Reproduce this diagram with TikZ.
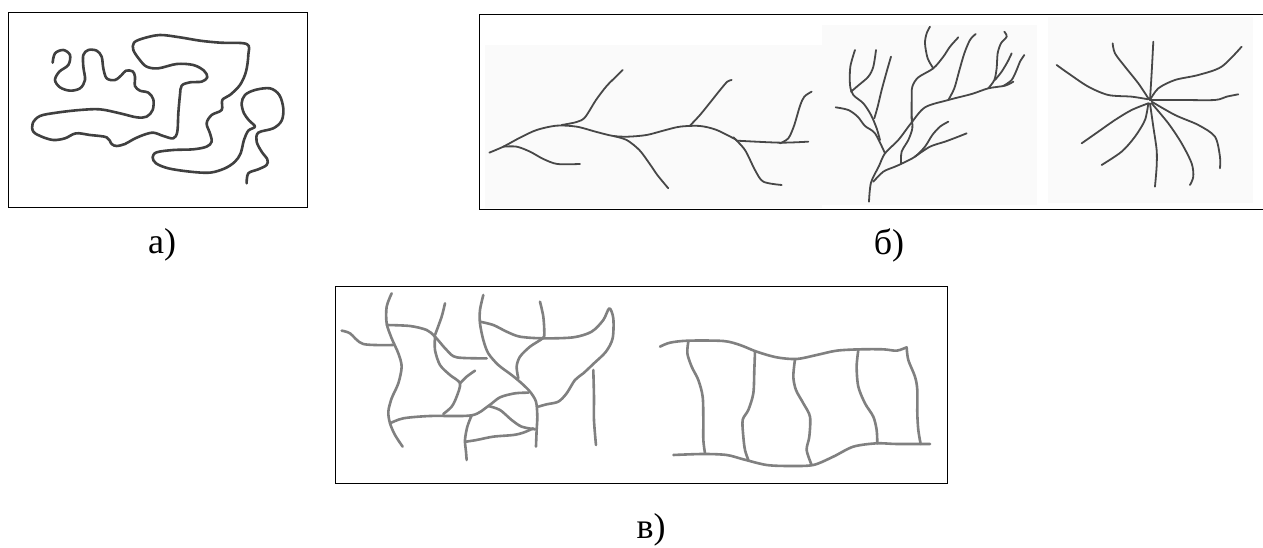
\documentclass[tikz,border=0pt]{standalone}
\usepackage{fontspec}
\setmainfont{Liberation Serif}
\usetikzlibrary{positioning}

\begin{document}
\begin{tikzpicture}[x=1pt, y=-1pt, semithick,
    fibre/.style={line width=2.6pt, draw=black!75, line cap=round, line join=round},
    twig/.style={line width=1.8pt, draw=black!72, line cap=round, line join=round},
    mesh/.style={line width=2.6pt, draw=black!50, line cap=round, line join=round},
    frame/.style={draw=black, line width=1pt},
    scan/.style={fill=black!2, draw=none},
    lbl/.style={font=\fontsize{36}{40}\selectfont, inner sep=0pt}]
    \useasboundingbox (0,0) rectangle (1263,547);

    \fill[white] (0,0) rectangle (1263,547);
    \fill[scan] (485,45) rectangle (822,208);
    \fill[scan] (822,25) rectangle (1037,205);
    \fill[scan] (1048,17) rectangle (1253,203);

    \draw[frame] (8,12) rectangle (307,207);
    \draw[frame] (479,14) rectangle (1275,209);
    \draw[frame] (335,286) rectangle (947,483);

    % a)
    \begin{scope}[x=0.3333pt, y=-0.3333pt]
        \draw[fibre] plot[smooth, tension=0.55] coordinates {(158,188) (165,160) (190,150) (210,165) (205,195) (178,215) (165,240) (180,262) (210,272) (240,265) (255,240) (250,200) (250,165) (265,150) (290,152) (305,170) (310,205) (320,235) (345,240) (365,225) (378,212) (398,214) (405,230) (405,258) (420,272) (445,278) (460,298) (458,330) (440,350) (410,352) (360,340) (300,328) (240,330) (170,338) (120,348) (98,370) (100,395) (125,410) (160,420) (195,415) (228,400) (270,405) (320,412) (335,432) (350,438) (375,432) (400,418) (430,405) (460,398) (490,408) (520,415) (532,395) (535,340) (540,285) (545,257) (570,247) (605,245) (622,232) (612,212) (580,195) (530,192) (475,205) (440,200) (418,178) (400,150) (402,128) (430,115) (480,105) (540,112) (600,122) (660,128) (740,132) (745,165) (738,215) (720,255) (690,285) (667,300) (665,330) (635,345) (620,370) (630,400) (635,425) (620,440) (580,448) (520,450) (470,457) (458,472) (468,490) (505,505) (570,515) (630,518) (675,505) (705,485) (722,460) (732,420) (745,392) (765,380) (748,362) (732,340) (725,310) (735,285) (765,270) (810,265) (838,285) (850,325) (845,362) (820,385) (775,398) (770,425) (785,455) (802,478) (800,495) (775,508) (745,520) (740,550)};
    \end{scope}

    % b) left
    \begin{scope}[shift={(470,0)}, x=0.3333pt, y=-0.3333pt]
        \draw[twig] plot[smooth] coordinates {(58,458) (100,440) (150,413) (200,390) (260,377) (320,380) (380,396) (430,408) (475,410) (530,405) (580,392) (630,380) (690,378) (740,390) (800,420)};
        \draw[twig] plot[smooth] coordinates {(800,422) (930,428) (1015,425)};
        \draw[twig] plot[smooth] coordinates {(790,412) (825,450) (855,510) (880,545) (935,555)};
        \draw[twig] plot[smooth] coordinates {(100,440) (140,440) (180,455) (220,477) (262,492) (330,492)};
        \draw[twig] plot[smooth] coordinates {(275,375) (320,366) (345,352) (378,300) (410,258) (440,228) (458,210)};
        \draw[twig] plot[smooth] coordinates {(430,408) (470,420) (508,450) (538,490) (562,525) (595,565)};
        \draw[twig] plot[smooth] coordinates {(660,377) (690,345) (720,308) (752,268) (772,245) (785,240)};
        \draw[twig] plot[smooth] coordinates {(930,430) (955,415) (972,378) (990,318) (1003,290) (1025,275)};
    \end{scope}

    % b) middle and right
    \begin{scope}[shift={(815,0)}, x=0.3333pt, y=-0.3333pt]
        \draw[twig] plot[smooth] coordinates {(162,605) (168,548) (192,498) (210,460) (250,420) (288,370) (330,322) (400,300) (470,282) (520,265) (570,257) (595,245)};
        \draw[twig] plot[smooth] coordinates {(62,322) (100,330) (128,350) (150,378) (180,400) (210,460)};
        \draw[twig] plot[smooth] coordinates {(120,150) (106,200) (105,255) (115,285) (145,310) (168,345) (185,385) (195,420)};
        \draw[twig] plot[smooth] coordinates {(183,150) (175,200) (160,230) (128,258) (108,275)};
        \draw[twig] plot[smooth] coordinates {(228,170) (215,215) (200,270) (188,320) (178,355)};
        \draw[twig] plot[smooth] coordinates {(290,370) (290,300) (292,260) (310,232) (355,205) (385,170) (405,140) (430,112)};
        \draw[twig] plot[smooth] coordinates {(355,205) (338,175) (330,130) (335,100) (345,80)};
        \draw[twig] plot[smooth] coordinates {(400,300) (418,265) (432,215) (448,160) (465,120) (482,102)};
        \draw[twig] plot[smooth] coordinates {(520,265) (538,240) (545,205) (548,160) (558,130) (575,110) (568,95)};
        \draw[twig] plot[smooth] coordinates {(540,240) (560,215) (578,185) (590,160)};
        \draw[twig] plot[smooth] coordinates {(565,258) (590,240) (605,210) (615,185) (628,165)};
        \draw[twig] plot[smooth] coordinates {(175,545) (205,515) (240,500) (262,490) (300,470) (330,440) (352,405) (375,380) (400,365)};
        \draw[twig] plot[smooth] coordinates {(300,470) (345,440) (390,425) (430,410) (455,400)};
        \draw[twig] plot[smooth] coordinates {(258,492) (260,455) (280,420) (292,385) (290,350)};

        \draw[twig] plot[smooth] coordinates {(1005,300) (1010,220) (1015,125)};
        \draw[twig] plot[smooth] coordinates {(1000,295) (970,250) (930,200) (900,160) (893,130)};
        \draw[twig] plot[smooth] coordinates {(1000,298) (950,290) (880,285) (820,260) (760,220) (725,195)};
        \draw[twig] plot[smooth] coordinates {(1005,300) (1030,265) (1080,240) (1150,225) (1220,200) (1280,140)};
        \draw[twig] plot[smooth] coordinates {(1005,300) (1100,300) (1200,300) (1235,290) (1270,283)};
        \draw[twig] plot[smooth] coordinates {(1010,305) (1080,345) (1150,375) (1200,410) (1215,470) (1215,505)};
        \draw[twig] plot[smooth] coordinates {(1010,310) (1060,370) (1100,430) (1130,490) (1135,530) (1125,555)};
        \draw[twig] plot[smooth] coordinates {(1005,310) (1015,380) (1025,450) (1025,500) (1020,560)};
        \draw[twig] plot[smooth] coordinates {(1000,310) (990,360) (960,410) (920,455) (860,495)};
        \draw[twig] plot[smooth] coordinates {(1000,310) (950,330) (900,360) (850,395) (800,430)};
    \end{scope}

    % c) left
    \begin{scope}[shift={(320,270)}, x=0.3333pt, y=-0.3333pt]
        \draw[mesh] plot[smooth] coordinates {(215,70) (200,110) (200,160) (215,205) (235,250) (245,290) (235,340) (215,385) (205,425) (210,460) (225,495) (248,530)};
        \draw[mesh] plot[smooth] coordinates {(65,182) (90,190) (130,222) (220,225)};
        \draw[mesh] plot[smooth] coordinates {(200,165) (270,168) (320,180) (345,200) (380,240) (410,262) (500,265)};
        \draw[mesh] plot[smooth] coordinates {(375,100) (365,140) (345,195)};
        \draw[mesh] plot[smooth] coordinates {(345,200) (345,240) (360,285) (390,315) (420,340) (410,380) (395,410) (370,432)};
        \draw[mesh] plot[smooth] coordinates {(465,302) (440,320) (420,340)};
        \draw[mesh] plot[smooth] coordinates {(210,460) (250,445) (330,438) (455,436) (505,408) (540,382) (585,370) (625,368)};
        \draw[mesh] plot[smooth] coordinates {(490,75) (480,120) (480,160) (490,210) (505,250) (535,285) (575,315) (605,340) (630,365) (648,395) (652,440) (650,480) (648,530)};
        \draw[mesh] plot[smooth] coordinates {(480,155) (520,165) (560,185) (600,200) (670,205) (760,202) (815,185) (850,150) (868,115) (880,145) (878,205) (858,245) (822,280) (790,310) (765,330) (740,370) (715,395) (680,403) (655,410)};
        \draw[mesh] plot[smooth] coordinates {(820,300) (822,380) (822,450) (828,525)};
        \draw[mesh] plot[smooth] coordinates {(660,95) (670,140) (673,190) (668,205) (630,230) (600,260) (590,290) (595,325)};
        \draw[mesh] plot[smooth] coordinates {(505,408) (540,420) (575,450) (605,470) (645,478)};
        \draw[mesh] plot[smooth] coordinates {(455,436) (442,470) (435,510) (438,545) (440,570)};
        \draw[mesh] plot[smooth] coordinates {(438,515) (470,510) (520,500) (580,495) (610,488) (640,475)};
    \end{scope}

    % c) right
    \begin{scope}[shift={(630,270)}, x=0.3333pt, y=-0.3333pt]
        \draw[mesh] plot[smooth] coordinates {(90,230) (120,218) (175,212) (280,213) (330,225) (380,245) (440,262) (500,267) (560,255) (620,242) (690,238) (760,238) (800,242) (830,232)};
        \draw[mesh] plot[smooth] coordinates {(130,555) (220,552) (290,555) (340,568) (410,585) (480,588) (550,585) (610,560) (670,530) (740,520) (800,522) (900,522)};
        \draw[mesh] plot[smooth] coordinates {(175,215) (172,250) (185,290) (205,330) (218,380) (220,450) (220,510) (225,550)};
        \draw[mesh] plot[smooth] coordinates {(375,245) (373,300) (370,370) (355,420) (338,450) (340,500) (345,540) (355,570)};
        \draw[mesh] plot[smooth] coordinates {(495,268) (490,320) (498,360) (520,400) (540,440) (538,500) (530,540) (545,585)};
        \draw[mesh] plot[smooth] coordinates {(685,240) (680,290) (685,350) (705,400) (730,440) (740,480) (742,520)};
        \draw[mesh] plot[smooth] coordinates {(830,232) (835,270) (855,320) (862,360) (862,430) (865,480) (872,522)};
    \end{scope}

    \node[lbl] (la) at (162,245) {а)};
    \node[lbl] (lb) at (889,245) {б)};
    \node[lbl] (lc) at (651,530) {в)};
\end{tikzpicture}
\end{document}
